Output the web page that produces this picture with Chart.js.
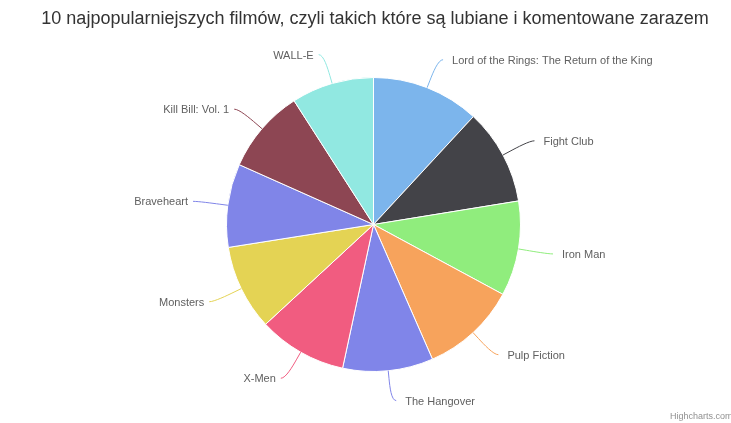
<!DOCTYPE html>
<html>
<head>
<meta charset="utf-8">
<script src="https://cdn.jsdelivr.net/npm/chart.js@4/dist/chart.umd.min.js"></script>
<style>
html,body{margin:0;padding:0;background:#fff;}
#wrap{width:731px;height:423px;position:relative;}
</style>
</head>
<body>
<div id="wrap"><canvas id="c" width="731" height="423"></canvas></div>
<script>
const TITLE = "10 najpopularniejszych filmów, czyli takich które są lubiane i komentowane zarazem";
const CREDITS = "Highcharts.com";
const categories = ["Lord of the Rings: The Return of the King","Fight Club","Iron Man","Pulp Fiction","The Hangover","X-Men","Monsters","Braveheart","Kill Bill: Vol. 1","WALL-E"];
const values = [42.8, 38.0, 37.6, 38.0, 35.8, 35.1, 33.8, 33.0, 33.3, 32.7];
const colors = ["#7cb5ec","#434348","#90ed7d","#f7a35c","#8085e9","#f15c80","#e4d354","#8085e8","#8d4653","#91e8e1"];

const FONT = '"Liberation Sans", Arial, Helvetica, sans-serif';

const labelsPlugin = {
  id: 'hcLabels',
  afterDraw(chart) {
    const ctx = chart.ctx;
    const meta = chart.getDatasetMeta(0);
    const dist = 30;
    // title
    ctx.save();
    ctx.fillStyle = '#333333';
    ctx.font = '18px ' + FONT;
    ctx.textAlign = 'center';
    ctx.textBaseline = 'alphabetic';
    ctx.fillText(TITLE, 375, 24);
    // credits
    ctx.fillStyle = '#909090';
    ctx.font = '9px ' + FONT;
    ctx.textAlign = 'left';
    ctx.fillText(CREDITS, 670, 419);
    ctx.restore();

    meta.data.forEach((arc, i) => {
      const p = arc.getProps(['x','y','startAngle','endAngle','outerRadius'], true);
      const a = (p.startAngle + p.endAngle) / 2;
      const r = p.outerRadius;
      const cos = Math.cos(a), sin = Math.sin(a);
      const side = cos >= 0 ? 1 : -1;
      const x = p.x + (r + dist) * cos;
      const y = p.y + (r + dist) * sin;
      const bx = p.x + (r + 8) * cos, by = p.y + (r + 8) * sin;
      const ex = p.x + r * cos, ey = p.y + r * sin;
      ctx.save();
      ctx.strokeStyle = colors[i];
      ctx.lineWidth = 1;
      ctx.beginPath();
      ctx.moveTo(x + 5 * side, y);
      ctx.bezierCurveTo(x, y, 2 * bx - ex, 2 * by - ey, bx, by);
      ctx.lineTo(ex, ey);
      ctx.stroke();
      ctx.fillStyle = '#606060';
      ctx.font = '11px ' + FONT;
      ctx.textBaseline = 'middle';
      ctx.textAlign = side > 0 ? 'left' : 'right';
      ctx.fillText(categories[i], x + (side > 0 ? 14 : -10), y + 1);
      ctx.restore();
    });
  }
};

new Chart(document.getElementById('c'), {
  type: 'pie',
  data: {
    labels: categories,
    datasets: [{
      data: values,
      backgroundColor: colors,
      borderColor: '#ffffff',
      borderWidth: 1
    }]
  },
  options: {
    responsive: false,
    animation: false,
    layout: { padding: { top: 77, bottom: 51, left: 226, right: 210 } },
    plugins: {
      legend: { display: false },
      title: { display: false },
      tooltip: { enabled: false }
    }
  },
  plugins: [labelsPlugin]
});
</script>
</body>
</html>
